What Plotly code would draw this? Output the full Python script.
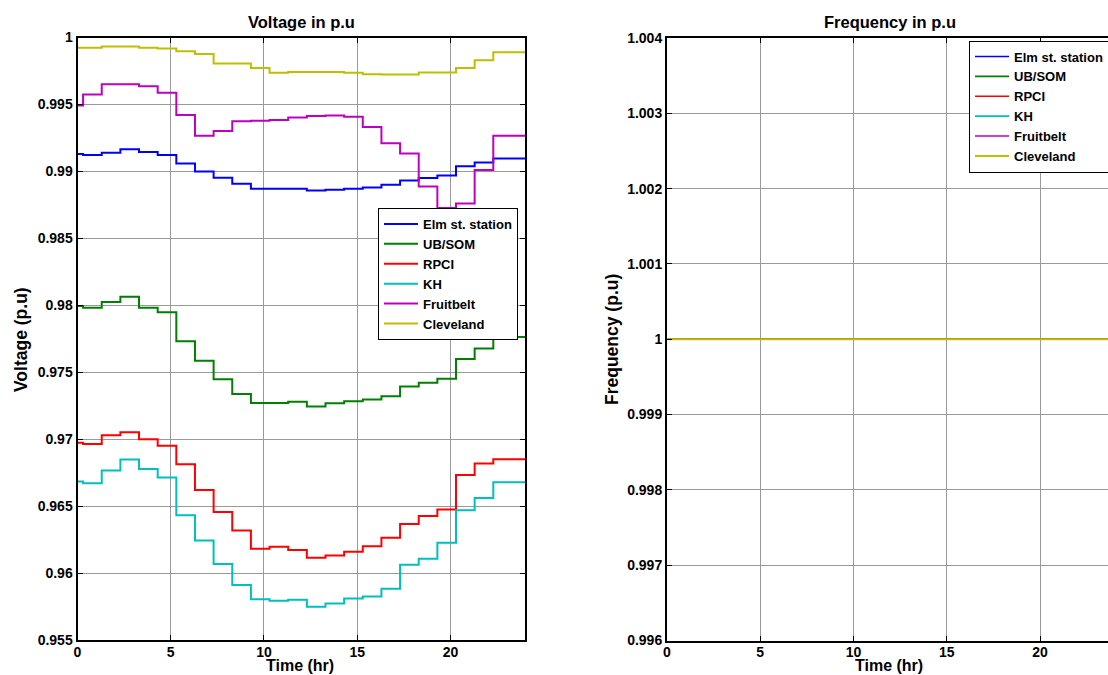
import plotly.graph_objects as go

W, H = 1108, 675

# ---------------- data ----------------
series_names = ["Elm st. station", "UB/SOM", "RPCI", "KH", "Fruitbelt", "Cleveland"]
series_colors = ["#0000FF", "#008000", "#FF0000", "#00BFBF", "#BF00BF", "#BFBF00"]

time_edges = [0, 0.3, 1.3, 2.3, 3.3, 4.3, 5.3, 6.3, 7.3, 8.3, 9.3, 10.3, 11.3,
              12.3, 13.3, 14.3, 15.3, 16.3, 17.3, 18.3, 19.3, 20.3, 21.3, 22.3, 23.3, 24]

v_elm = [0.99130, 0.99123, 0.99140, 0.99165, 0.99145, 0.99123, 0.99059, 0.98999, 0.98952,
         0.98907, 0.98870, 0.98870, 0.98870, 0.98858, 0.98863, 0.98870, 0.98880, 0.98900,
         0.98932, 0.98950, 0.98970, 0.99039, 0.99066, 0.99096, 0.99096]
v_ubsom = [0.97995, 0.97982, 0.98025, 0.98063, 0.97982, 0.97947, 0.97731, 0.97585, 0.97447,
           0.97337, 0.97271, 0.97271, 0.97279, 0.97244, 0.97269, 0.97284, 0.97296, 0.97321,
           0.97394, 0.97422, 0.97452, 0.97598, 0.97678, 0.97764, 0.97764]
v_rpci = [0.96973, 0.96963, 0.97030, 0.97052, 0.97000, 0.96950, 0.96813, 0.96621, 0.96456,
          0.96317, 0.96182, 0.96197, 0.96172, 0.96115, 0.96132, 0.96160, 0.96200, 0.96264,
          0.96367, 0.96426, 0.96474, 0.96733, 0.96818, 0.96850, 0.96850]
v_kh = [0.96683, 0.96671, 0.96766, 0.96848, 0.96778, 0.96713, 0.96431, 0.96244, 0.96067,
        0.95910, 0.95805, 0.95793, 0.95800, 0.95748, 0.95773, 0.95810, 0.95825, 0.95883,
        0.96062, 0.96107, 0.96227, 0.96469, 0.96561, 0.96678, 0.96678]
v_fruitbelt = [0.99493, 0.99574, 0.99651, 0.99651, 0.99636, 0.99587, 0.99421, 0.99267, 0.99302,
               0.99374, 0.99378, 0.99383, 0.99403, 0.99413, 0.99418, 0.99408, 0.99331, 0.99210,
               0.99133, 0.98887, 0.98726, 0.98761, 0.99011, 0.99267, 0.99267]
v_cleveland = [0.99924, 0.99924, 0.99933, 0.99933, 0.99924, 0.99917, 0.99897, 0.99877, 0.99805,
               0.99805, 0.99773, 0.99736, 0.99742, 0.99743, 0.99743, 0.99736, 0.99726, 0.99723,
               0.99723, 0.99738, 0.99738, 0.99773, 0.99830, 0.99889, 0.99889]

freq_time = [0, 24]
f_elm = [1.0, 1.0]
f_ubsom = [1.0, 1.0]
f_rpci = [1.0, 1.0]
f_kh = [1.0, 1.0]
f_fruitbelt = [1.0, 1.0]
f_cleveland = [1.0, 1.0]

v_ticks = [0.955, 0.96, 0.965, 0.97, 0.975, 0.98, 0.985, 0.99, 0.995, 1.0]
v_ticktext = ["0.955", "0.96", "0.965", "0.97", "0.975", "0.98", "0.985", "0.99", "0.995", "1"]
f_ticks = [0.996, 0.997, 0.998, 0.999, 1.0, 1.001, 1.002, 1.003, 1.004]
f_ticktext = ["0.996", "0.997", "0.998", "0.999", "1", "1.001", "1.002", "1.003", "1.004"]
x_ticks = [0, 5, 10, 15, 20]
x_ticktext = ["0", "5", "10", "15", "20"]

voltage_series = [v_elm, v_ubsom, v_rpci, v_kh, v_fruitbelt, v_cleveland]
freq_series = [f_elm, f_ubsom, f_rpci, f_kh, f_fruitbelt, f_cleveland]

# ---------------- figure ----------------
FONT = "Liberation Sans, Arial, Helvetica, sans-serif"
fig = go.Figure()

for name, col, vals in zip(series_names, series_colors, voltage_series):
    fig.add_trace(go.Scatter(
        x=time_edges, y=vals + [vals[-1]], mode="lines", name=name,
        line=dict(color=col, width=2, shape="hv"),
        xaxis="x", yaxis="y", legend="legend"))

n_f = len(freq_series)
for i, (name, col, vals) in enumerate(zip(series_names, series_colors, freq_series)):
    fig.add_trace(go.Scatter(
        x=freq_time, y=vals, mode="lines", name=name,
        line=dict(color=col, width=2 if i == n_f - 1 else 1.6),
        xaxis="x2", yaxis="y2", legend="legend2"))


def px_x(p):
    return p / W


def px_y(p):
    return 1 - p / H


tickfont = dict(family=FONT, size=14, color="black", weight="bold")
grid = "#9a9a9a"

common_x = dict(showgrid=True, gridcolor=grid, gridwidth=1, zeroline=False,
                showline=True, linecolor="black", linewidth=2,
                ticks="inside", ticklen=5, tickcolor="black", tickwidth=1,
                tickvals=x_ticks, ticktext=x_ticktext, tickfont=tickfont,
                ticklabelstandoff=-2, fixedrange=True)
common_y = dict(showgrid=True, gridcolor=grid, gridwidth=1, zeroline=False,
                showline=True, linecolor="black", linewidth=2,
                ticks="inside", ticklen=5, tickcolor="black", tickwidth=1,
                tickfont=tickfont, fixedrange=True)

L1, R1 = 77.5, 525.0
T1, B1 = 37.5, 640.0
L2 = 667.0
T2, B2 = 38.0, 640.5
xend2 = (W - L2) / 18.65

legend_font = dict(family=FONT, size=13, color="black", weight="bold")

fig.update_layout(
    width=W, height=H,
    margin=dict(l=0, r=0, t=0, b=0, autoexpand=False),
    paper_bgcolor="white", plot_bgcolor="white",
    font=dict(family=FONT, color="black"),
    xaxis=dict(common_x, domain=[px_x(L1), px_x(R1)], range=[0, 24], anchor="y", mirror="ticks"),
    yaxis=dict(common_y, domain=[px_y(B1), px_y(T1)], range=[0.955, 1.0], anchor="x",
               tickvals=v_ticks, ticktext=v_ticktext, mirror="ticks"),
    xaxis2=dict(common_x, domain=[px_x(L2), 1.0], range=[0, xend2], anchor="y2", mirror="ticks"),
    yaxis2=dict(common_y, domain=[px_y(B2), px_y(T2)], range=[0.996, 1.004], anchor="x2",
                tickvals=f_ticks, ticktext=f_ticktext, mirror=False),
    legend=dict(x=px_x(378), y=px_y(208), xanchor="left", yanchor="top",
                bgcolor="white", bordercolor="black", borderwidth=1,
                font=legend_font, itemwidth=34, tracegroupgap=0),
    legend2=dict(x=px_x(969), y=px_y(40.5), xanchor="left", yanchor="top",
                 bgcolor="white", bordercolor="black", borderwidth=1,
                 font=legend_font, itemwidth=34, tracegroupgap=0),
    showlegend=True,
)

title_font = dict(family=FONT, size=16.5, color="black", weight="bold")
label_font = dict(family=FONT, size=17.5, color="black", weight="bold")
xlabel_font = dict(family=FONT, size=16, color="black", weight="bold")
annotations = [
    dict(text="Voltage in p.u", x=px_x(301), y=px_y(22), font=title_font, yanchor="middle"),
    dict(text="Frequency in p.u", x=px_x(890), y=px_y(22), font=title_font, yanchor="middle"),
    dict(text="Time (hr)", x=px_x(300), y=0, font=xlabel_font, yanchor="bottom", borderpad=0),
    dict(text="Time (hr)", x=px_x(889), y=0, font=xlabel_font, yanchor="bottom", borderpad=0),
    dict(text="Voltage (p.u)", x=px_x(21), y=px_y(340), textangle=-90, font=label_font,
         yanchor="middle"),
    dict(text="Frequency (p.u)", x=px_x(612), y=px_y(340), textangle=-90, font=label_font,
         yanchor="middle"),
]
for a in annotations:
    fig.add_annotation(xref="paper", yref="paper", xanchor="center",
                       showarrow=False, **a)

fig.write_html("out.html", config={"displayModeBar": False})
